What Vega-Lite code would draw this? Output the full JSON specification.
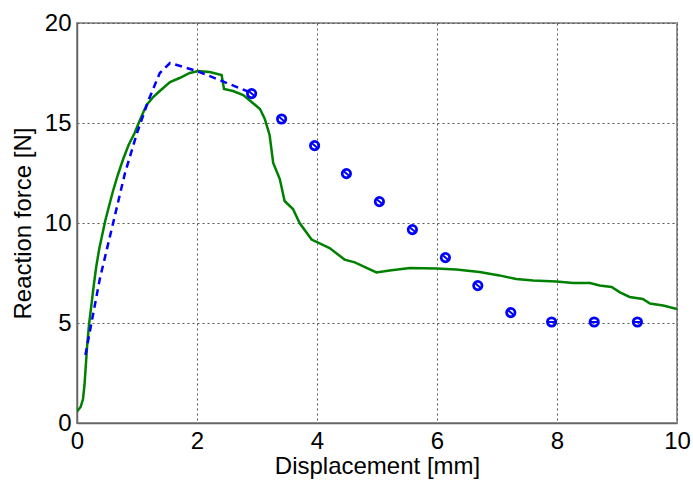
{
  "$schema": "https://vega.github.io/schema/vega-lite/v6.json",
  "width": 600,
  "height": 400,
  "autosize": {"type": "none"},
  "padding": {"left": 77, "top": 23, "right": 16, "bottom": 57},
  "background": "white",
  "config": {
    "font": "Liberation Sans",
    "view": {"stroke": "#999999", "strokeWidth": 2},
    "axis": {
      "labelFont": "Liberation Sans",
      "titleFont": "Liberation Sans",
      "labelFontSize": 24,
      "titleFontSize": 24,
      "titleFontWeight": "normal",
      "labelColor": "black",
      "titleColor": "black",
      "domainColor": "#666666",
      "domainWidth": 1.5,
      "tickSize": 0,
      "gridColor": "#555555",
      "gridDash": [2, 3],
      "gridWidth": 1,
      "gridOpacity": 1
    }
  },
  "datasets": {
    "green": [
      {"d": 0.0, "f": 0.58}, {"d": 0.06, "f": 0.8}, {"d": 0.1, "f": 1.2}, {"d": 0.125, "f": 1.9}, {"d": 0.145, "f": 2.8},
      {"d": 0.17, "f": 3.9}, {"d": 0.2, "f": 4.9}, {"d": 0.24, "f": 5.9}, {"d": 0.28, "f": 6.9},
      {"d": 0.32, "f": 7.8}, {"d": 0.37, "f": 8.7}, {"d": 0.42, "f": 9.4}, {"d": 0.47, "f": 10.1},
      {"d": 0.53, "f": 10.8}, {"d": 0.6, "f": 11.6}, {"d": 0.68, "f": 12.4}, {"d": 0.77, "f": 13.2},
      {"d": 0.86, "f": 13.9}, {"d": 0.96, "f": 14.5}, {"d": 1.07, "f": 15.3},
      {"d": 1.16, "f": 15.9}, {"d": 1.27, "f": 16.3}, {"d": 1.38, "f": 16.6}, {"d": 1.55, "f": 17.05}, {"d": 1.71, "f": 17.25},
      {"d": 1.88, "f": 17.5}, {"d": 2.02, "f": 17.6}, {"d": 2.21, "f": 17.55}, {"d": 2.41, "f": 17.4},
      {"d": 2.45, "f": 16.7}, {"d": 2.6, "f": 16.6}, {"d": 2.77, "f": 16.4}, {"d": 2.93, "f": 16.0},
      {"d": 3.05, "f": 15.7}, {"d": 3.13, "f": 15.2}, {"d": 3.21, "f": 14.4}, {"d": 3.27, "f": 13.0},
      {"d": 3.38, "f": 12.2}, {"d": 3.46, "f": 11.1}, {"d": 3.6, "f": 10.7}, {"d": 3.71, "f": 10.0},
      {"d": 3.91, "f": 9.17}, {"d": 4.21, "f": 8.75}, {"d": 4.46, "f": 8.17}, {"d": 4.63, "f": 8.03},
      {"d": 4.99, "f": 7.53}, {"d": 5.21, "f": 7.63}, {"d": 5.55, "f": 7.75}, {"d": 5.99, "f": 7.72},
      {"d": 6.32, "f": 7.67}, {"d": 6.71, "f": 7.55}, {"d": 7.04, "f": 7.38}, {"d": 7.32, "f": 7.2},
      {"d": 7.6, "f": 7.13}, {"d": 7.99, "f": 7.08}, {"d": 8.27, "f": 7.0}, {"d": 8.55, "f": 7.0},
      {"d": 8.71, "f": 6.88}, {"d": 8.91, "f": 6.8}, {"d": 9.05, "f": 6.53}, {"d": 9.21, "f": 6.3},
      {"d": 9.43, "f": 6.2}, {"d": 9.55, "f": 5.97}, {"d": 9.77, "f": 5.87}, {"d": 10.0, "f": 5.7}
    ],
    "dashed": [
      {"d": 0.14, "f": 3.4}, {"d": 0.38, "f": 7.2}, {"d": 0.8, "f": 12.5}, {"d": 1.0, "f": 14.5},
      {"d": 1.2, "f": 16.2}, {"d": 1.38, "f": 17.5}, {"d": 1.55, "f": 18.0}, {"d": 2.0, "f": 17.6},
      {"d": 2.91, "f": 16.5}
    ],
    "points": [
      {"d": 2.91, "f": 16.47}, {"d": 3.41, "f": 15.2}, {"d": 3.96, "f": 13.87}, {"d": 4.49, "f": 12.47},
      {"d": 5.04, "f": 11.07}, {"d": 5.59, "f": 9.67}, {"d": 6.14, "f": 8.27}, {"d": 6.68, "f": 6.87},
      {"d": 7.23, "f": 5.52}, {"d": 7.91, "f": 5.05}, {"d": 8.62, "f": 5.05}, {"d": 9.34, "f": 5.05}
    ]
  },
  "encoding": {
    "x": {
      "field": "d", "type": "quantitative",
      "scale": {"domain": [0, 10], "nice": false},
      "axis": {"values": [0, 2, 4, 6, 8, 10], "title": "Displacement [mm]", "labelPadding": 6, "titlePadding": 1, "labelFlush": false}
    },
    "y": {
      "field": "f", "type": "quantitative",
      "scale": {"domain": [0, 20], "nice": false},
      "axis": {"values": [0, 5, 10, 15, 20], "title": "Reaction force [N]", "labelPadding": 6, "titlePadding": 9, "labelFlush": false}
    }
  },
  "layer": [
    {
      "data": {"name": "green"},
      "mark": {"type": "line", "color": "#008000", "strokeWidth": 2.5, "clip": true}
    },
    {
      "data": {"name": "dashed"},
      "mark": {"type": "line", "color": "#0000FF", "strokeWidth": 2.5, "strokeDash": [7, 5], "clip": true}
    },
    {
      "data": {"name": "points"},
      "mark": {"type": "point", "shape": "circle", "filled": false, "color": "#0000FF", "strokeWidth": 2.8, "size": 70, "opacity": 1}
    },
    {
      "data": {"name": "points"},
      "transform": [{"filter": "datum.f > 5.2"}],
      "mark": {"type": "point", "shape": "M -0.7 -0.6 L 0.7 0.6", "filled": false, "color": "#0000FF", "strokeWidth": 2, "size": 70, "opacity": 1}
    },
    {
      "data": {"name": "points"},
      "transform": [{"filter": "datum.f <= 5.2"}],
      "mark": {"type": "point", "shape": "M -0.8 0 L 0.8 0", "filled": false, "color": "#0000FF", "strokeWidth": 2, "size": 70, "opacity": 1}
    }
  ]
}
